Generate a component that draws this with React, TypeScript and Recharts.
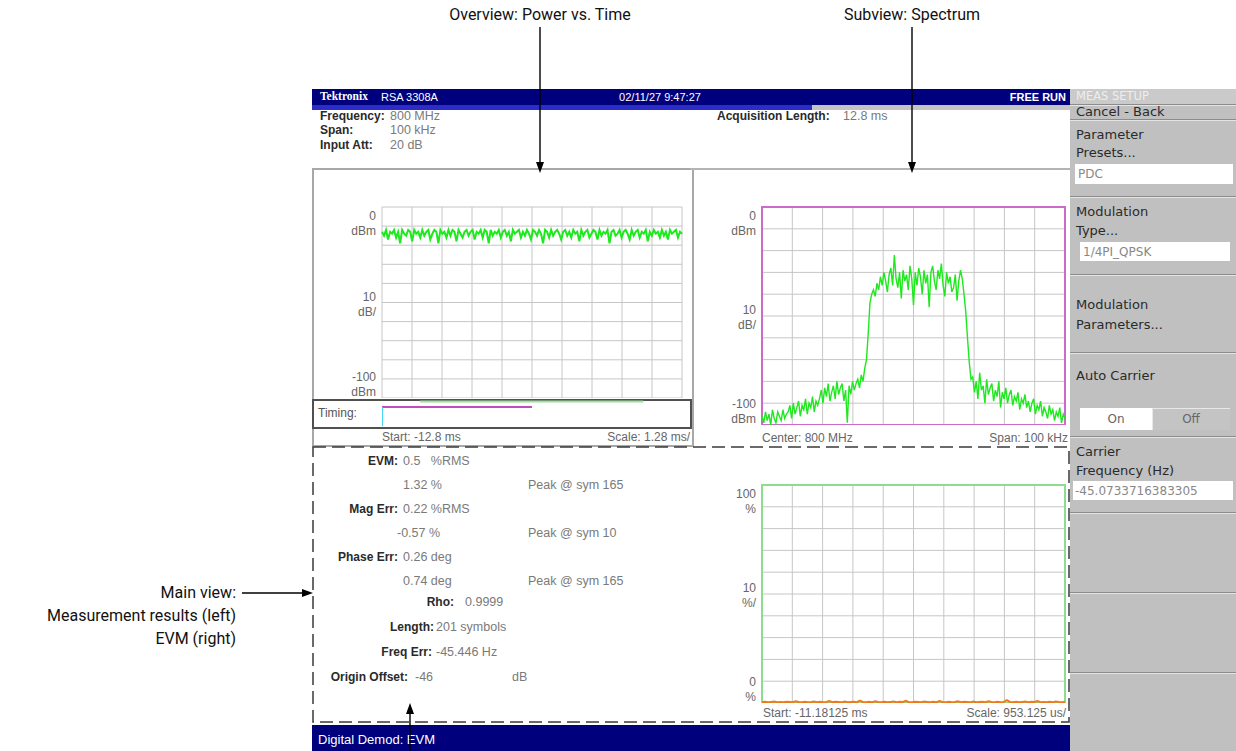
import React from 'react';
import { LineChart, Line, XAxis, YAxis, CartesianGrid, ReferenceArea } from 'recharts';

// overview: power vs. time (dBm)
const overviewDbm = [
  -13, -15, -12, -17, -13, -14, -12, -16, -13, -19, -12, -14, -15, -12, -13,
  -18, -12, -14, -13, -16, -12, -15, -13, -12, -17, -14, -12, -13, -19, -12,
  -14, -13, -16, -12, -15, -12, -13, -18, -12, -14, -16, -13, -12, -15, -13,
  -12, -17, -13, -14, -12, -16, -12, -13, -19, -12, -15, -13, -14, -12, -16,
  -13, -12, -15, -13, -18, -12, -14, -13, -12, -16, -13, -15, -12, -14, -17,
  -12, -13, -15, -12, -14, -19, -12, -13, -16, -12, -15, -13, -12, -14, -17,
  -13, -12, -15, -13, -16, -12, -14, -13, -18, -12, -15, -13, -12, -16, -14,
  -12, -13, -17, -12, -15, -13, -14, -12, -19, -13, -12, -15, -14, -12, -16,
  -13, -12, -14, -17, -12, -15, -13, -12, -16, -13, -14, -12, -18, -13, -15,
  -12, -14, -13, -16, -12, -15, -13, -17, -12, -14, -13, -12, -16, -13, -14,
];

// subview: spectrum (dBm) across the 100 kHz span
const spectrumDbm = [
  -96, -99, -94, -98, -95, -100, -93, -97, -99, -94, -96, -98, -93, -97, -95,
  -94, -91, -97, -90, -95, -92, -89, -96, -91, -93, -88, -95, -90, -92, -87, -94, -89, -91,
  -88, -84, -90, -83, -87, -81, -89, -85, -82, -88, -80, -86, -83, -81, -89, -84, -99, -82, -86, -80, -84, -81,
  -79, -83, -77, -80, -74, -70,
  -58, -44, -40, -38,
  -41, -35, -38, -32, -36, -30, -34, -39, -31, -28, -36, -22, -33, -37, -30, -42, -29, -34, -31, -38,
  -27, -33, -45, -30, -36, -28, -32, -40, -29, -35, -31, -46, -30, -27, -34, -38, -29, -33, -26, -36,
  -41, -30, -35, -32, -39, -37, -31, -43, -34, -29,
  -33, -40, -48, -60, -71, -79,
  -78, -85, -80, -88, -76, -84, -82, -90, -79, -86, -83, -81, -89, -84, -87, -80, -92, -85, -88, -83,
  -90, -86, -84, -91, -87, -89, -85, -93, -88, -90, -86, -92, -89, -94, -90, -88, -95, -91, -93, -89,
  -96, -92, -94, -97, -91, -95, -93, -98, -94, -96, -92, -99, -95, -97,
];

// main view: EVM (%) per symbol
const evmPercent = [
  0.4, 0.6, 0.3, 0.5, 0.7, 0.4, 0.5, 0.3, 0.6, 0.5, 0.4, 0.8, 0.5, 0.3, 0.6, 0.4, 0.5, 0.7, 0.4, 0.6,
  0.3, 0.5, 0.9, 0.4, 0.6, 0.5, 0.3, 0.7, 0.4, 0.5, 0.6, 0.4, 1.1, 0.5, 0.3, 0.6, 0.4, 0.8, 0.5, 0.4,
  0.6, 0.3, 0.5, 0.7, 0.4, 0.6, 0.5, 1.0, 0.4, 0.3, 0.6, 0.5, 0.4, 0.7, 0.5, 0.3, 0.6, 0.4, 0.9, 0.5,
  0.4, 0.6, 0.3, 0.5, 0.8, 0.4, 0.6, 0.5, 0.3, 0.7, 0.4, 0.5, 0.6, 0.4, 0.8, 0.5, 0.3, 0.6, 0.4, 0.5,
  1.3, 0.5, 0.4, 0.6, 0.3, 0.5, 0.7, 0.4, 0.6, 0.5, 0.9, 0.4, 0.5, 0.3, 0.6, 0.4, 0.7, 0.5, 0.4, 0.5,
];

const overviewRangeMs = [-12.8, 0];
const timingMagentaMs = [-12.8, -6.4];
const timingGreenMs = [-11.18125, -1.65];

const dbTicks = [0, -10, -20, -30, -40, -50, -60, -70, -80, -90, -100];
const pctTicks = [0, 10, 20, 30, 40, 50, 60, 70, 80, 90, 100];
const dbLabels: Record<number, string[]> = { 0: ['0', 'dBm'], [-50]: ['10', 'dB/'], [-100]: ['-100', 'dBm'] };
const pctLabels: Record<number, string[]> = { 100: ['100', '%'], 50: ['10', '%/'], 0: ['0', '%'] };

const measLabels = ['EVM:', '', 'Mag Err:', '', 'Phase Err:', ''];
const measValues = ['0.5   %RMS', '1.32 %', '0.22 %RMS', '-0.57 %', '0.26 deg', '0.74 deg'];
const measPeaks = ['', 'Peak @ sym 165', '', 'Peak @ sym 10', '', 'Peak @ sym 165'];

const SCREEN_FONT = "'Liberation Sans', Arial, sans-serif";
const NOTE_FONT = "Roboto, 'Liberation Sans', sans-serif";

const divTicks = (n: number) => Array.from({ length: 11 }, (_, k) => (k * (n - 1)) / 10);

function Txt({ x, y, children, align = 'left', style }: any) {
  const tx = align === 'right' ? 'translate(-100%,-50%)' : align === 'center' ? 'translate(-50%,-50%)' : 'translate(0,-50%)';
  return (
    <div style={{ position: 'absolute', left: x, top: y, transform: tx, whiteSpace: 'pre', lineHeight: 1, ...style }}>
      {children}
    </div>
  );
}

function stackTick(props: any, labels: Record<number, string[]>, top: number, bottom: number) {
  const { x, y, payload } = props;
  const lab = labels[payload.value];
  if (!lab) return <g />;
  let o1 = -2;
  let o2 = 13;
  if (payload.value === top) { o1 = 13; o2 = 28; }
  if (payload.value === bottom) { o1 = -17; o2 = -2; }
  return (
    <g fill="#666" fontSize={12} fontFamily={SCREEN_FONT}>
      <text x={x} y={y + o1} textAnchor="end">{lab[0]}</text>
      <text x={x} y={y + o2} textAnchor="end">{lab[1]}</text>
    </g>
  );
}

function TracePlot({ values, domain, ticks, labels, stroke, border, width, height, strokeWidth }: any) {
  const data = values.map((v: number, i: number) => ({ i, v }));
  const n = values.length;
  return (
    <LineChart width={width} height={height} data={data} margin={{ top: 10, right: 5, bottom: 0, left: 0 }}>
      <CartesianGrid stroke="#c6c6c6" strokeWidth={1} />
      <XAxis dataKey="i" type="number" domain={[0, n - 1]} ticks={divTicks(n)} interval={0} height={0} tick={() => <g />} axisLine={false} tickLine={false} />
      <YAxis
        type="number"
        domain={domain}
        ticks={ticks}
        interval={0}
        width={70}
        axisLine={false}
        tickLine={false}
        tickSize={0}
        tickMargin={6}
        allowDataOverflow
        tick={(p: any) => stackTick(p, labels, domain[1], domain[0])}
      />
      {border && (
        <ReferenceArea x1={0} x2={n - 1} y1={domain[0]} y2={domain[1]} fill="none" stroke={border} strokeWidth={2} ifOverflow="visible" />
      )}
      <Line dataKey="v" type="linear" stroke={stroke} strokeWidth={strokeWidth} dot={false} isAnimationActive={false} />
    </LineChart>
  );
}

function TimingBar() {
  const seg = (a: number, b: number, ya: number, yb: number) => [{ t: a, y: ya }, { t: b, y: yb }];
  return (
    <LineChart width={300} height={27} margin={{ top: 0, right: 0, bottom: 0, left: 0 }}>
      <XAxis dataKey="t" type="number" domain={overviewRangeMs} allowDuplicatedCategory={false} hide />
      <YAxis type="number" domain={[0, 27]} reversed hide />
      <Line data={seg(timingGreenMs[0], timingGreenMs[1], 1.5, 1.5)} dataKey="y" stroke="#9ee09e" strokeWidth={2} dot={false} isAnimationActive={false} />
      <Line data={seg(timingMagentaMs[0], timingMagentaMs[1], 7, 7)} dataKey="y" stroke="#c04cc0" strokeWidth={2} dot={false} isAnimationActive={false} />
      <Line data={seg(timingMagentaMs[0], timingMagentaMs[0], 7, 26)} dataKey="y" stroke="#40d8f0" strokeWidth={2} dot={false} isAnimationActive={false} />
    </LineChart>
  );
}

const panelDivider = (y: number) => (
  <div key={y} style={{ position: 'absolute', left: 1070, top: y, width: 166, height: 1, background: '#8c8c8c', borderBottom: '1px solid #e4e4e4' }} />
);

export default function App() {
  const lbl: React.CSSProperties = { fontWeight: 'bold', color: '#2a2a2a', fontSize: 12 };
  const val: React.CSSProperties = { color: '#7a7a7a', fontSize: 12.5 };
  const side: React.CSSProperties = { color: '#2a2a2a', fontSize: 13, fontFamily: "'DejaVu Sans', sans-serif" };
  const box = (x: number, y: number, w: number, h: number, bg: string): React.CSSProperties => ({
    position: 'absolute', left: x, top: y, width: w, height: h, background: bg,
  });
  return (
    <div style={{ position: 'absolute', left: 0, top: 0, width: 1236, height: 751, background: '#fff', overflow: 'hidden', fontFamily: SCREEN_FONT }}>
      {/* annotations */}
      <Txt x={540} y={15} align="center" style={{ fontFamily: NOTE_FONT, fontSize: 16, color: '#111' }}>Overview: Power vs. Time</Txt>
      <Txt x={912} y={15} align="center" style={{ fontFamily: NOTE_FONT, fontSize: 16, color: '#111' }}>Subview: Spectrum</Txt>
      <Txt x={236} y={593} align="right" style={{ fontFamily: NOTE_FONT, fontSize: 16, color: '#111' }}>Main view:</Txt>
      <Txt x={236} y={616} align="right" style={{ fontFamily: NOTE_FONT, fontSize: 16, color: '#111' }}>Measurement results (left)</Txt>
      <Txt x={236} y={639} align="right" style={{ fontFamily: NOTE_FONT, fontSize: 16, color: '#111' }}>EVM (right)</Txt>

      {/* header */}
      <div style={box(312, 89, 758, 16, '#00007c')} />
      <div style={box(312, 105, 500, 5, '#2c2cc8')} />
      <div style={box(812, 105, 258, 5, '#c4c4c4')} />
      <Txt x={320} y={97} style={{ color: '#fff', fontSize: 11.5, fontWeight: 'bold', fontFamily: "'Liberation Serif', serif" }}>Tektronix</Txt>
      <Txt x={381} y={97} style={{ color: '#fff', fontSize: 11 }}>RSA 3308A</Txt>
      <Txt x={660} y={97} align="center" style={{ color: '#fff', fontSize: 11 }}>02/11/27 9:47:27</Txt>
      <Txt x={1066} y={97} align="right" style={{ color: '#fff', fontSize: 11, fontWeight: 'bold' }}>FREE RUN</Txt>

      {/* setup info */}
      <Txt x={320} y={116} style={lbl}>Frequency:</Txt>
      <Txt x={390} y={116} style={val}>800 MHz</Txt>
      <Txt x={320} y={130} style={lbl}>Span:</Txt>
      <Txt x={390} y={130} style={val}>100 kHz</Txt>
      <Txt x={320} y={145} style={lbl}>Input Att:</Txt>
      <Txt x={390} y={145} style={val}>20 dB</Txt>
      <Txt x={717} y={116} style={lbl}>Acquisition Length:</Txt>
      <Txt x={843} y={116} style={val}>12.8 ms</Txt>

      {/* overview */}
      <div style={{ position: 'absolute', left: 312, top: 168, width: 378, height: 275, border: '2px solid #a8a8a8', boxSizing: 'content-box' }} />
      <div style={box(690, 168, 380, 2, '#b4b4b4')} />
      <div style={{ position: 'absolute', left: 312, top: 197 }}>
        <TracePlot values={overviewDbm} domain={[-100, 0]} ticks={dbTicks} labels={dbLabels} stroke="#1ee81e" strokeWidth={2} width={375} height={201} />
      </div>
      <div style={{ position: 'absolute', left: 312, top: 399, width: 376, height: 26, border: '2px solid #505050', background: '#fff' }} />
      <Txt x={318} y={413} style={{ color: '#555', fontSize: 12 }}>Timing:</Txt>
      <div style={{ position: 'absolute', left: 382, top: 400 }}>
        <TimingBar />
      </div>
      <Txt x={382} y={437} style={{ color: '#666', fontSize: 12 }}>Start: -12.8 ms</Txt>
      <Txt x={690} y={437} align="right" style={{ color: '#666', fontSize: 12 }}>Scale: 1.28 ms/</Txt>

      {/* spectrum */}
      <div style={{ position: 'absolute', left: 692, top: 197 }}>
        <TracePlot values={spectrumDbm} domain={[-100, 0]} ticks={dbTicks} labels={dbLabels} stroke="#1ee81e" strokeWidth={1.4} border="#cc6acc" width={378} height={228} />
      </div>
      <Txt x={762} y={438} style={{ color: '#666', fontSize: 12 }}>Center: 800 MHz</Txt>
      <Txt x={1068} y={438} align="right" style={{ color: '#666', fontSize: 12 }}>Span: 100 kHz</Txt>

      {/* main view: results */}
      {measLabels.map((l, k) => (
        <React.Fragment key={k}>
          {l && <Txt x={398} y={461 + k * 24} align="right" style={lbl}>{l}</Txt>}
          <Txt x={k === 3 ? 397 : 403} y={461 + k * 24} style={val}>{measValues[k]}</Txt>
          {measPeaks[k] && <Txt x={528} y={461 + k * 24} style={val}>{measPeaks[k]}</Txt>}
        </React.Fragment>
      ))}
      <Txt x={454} y={602} align="right" style={lbl}>Rho:</Txt>
      <Txt x={465} y={602} style={val}>0.9999</Txt>
      <Txt x={434} y={627} align="right" style={lbl}>Length:</Txt>
      <Txt x={436} y={627} style={val}>201 symbols</Txt>
      <Txt x={432} y={652} align="right" style={lbl}>Freq Err:</Txt>
      <Txt x={436} y={652} style={val}>-45.446 Hz</Txt>
      <Txt x={408} y={677} align="right" style={lbl}>Origin Offset:</Txt>
      <Txt x={415} y={677} style={val}>-46</Txt>
      <Txt x={512} y={677} style={val}>dB</Txt>

      {/* main view: EVM */}
      <div style={{ position: 'absolute', left: 692, top: 475 }}>
        <TracePlot values={evmPercent} domain={[0, 100]} ticks={pctTicks} labels={pctLabels} stroke="#ee7a1a" strokeWidth={2} border="#8edc8e" width={378} height={228} />
      </div>
      <Txt x={763} y={713} style={{ color: '#666', fontSize: 12 }}>Start: -11.18125 ms</Txt>
      <Txt x={1066} y={713} align="right" style={{ color: '#666', fontSize: 12 }}>Scale: 953.125 us/</Txt>

      {/* status bar */}
      <div style={box(312, 725, 758, 26, '#00007c')} />
      <Txt x={318} y={739} style={{ color: '#fff', fontSize: 13 }}>Digital Demod: EVM</Txt>

      {/* side menu */}
      <div style={box(1070, 89, 166, 662, '#c0c0c0')} />
      <div style={box(1070, 89, 166, 15, '#cacaca')} />
      <Txt x={1076} y={97} style={{ ...side, color: '#eeeeee', fontSize: 11.5 }}>MEAS SETUP</Txt>
      {[104, 119, 196, 274, 352, 436, 512, 592, 672].map(panelDivider)}
      <Txt x={1076} y={111} style={side}>Cancel - Back</Txt>
      <Txt x={1076} y={134} style={side}>Parameter</Txt>
      <Txt x={1076} y={152} style={side}>Presets...</Txt>
      <div style={box(1075, 164, 158, 20, '#fff')} />
      <Txt x={1078} y={174} style={{ ...side, color: '#888', fontSize: 12 }}>PDC</Txt>
      <Txt x={1076} y={211} style={side}>Modulation</Txt>
      <Txt x={1076} y={230} style={side}>Type...</Txt>
      <div style={box(1080, 242, 150, 19, '#fff')} />
      <Txt x={1083} y={252} style={{ ...side, color: '#888', fontSize: 12 }}>1/4PI_QPSK</Txt>
      <Txt x={1076} y={304} style={side}>Modulation</Txt>
      <Txt x={1076} y={324} style={side}>Parameters...</Txt>
      <Txt x={1076} y={375} style={side}>Auto Carrier</Txt>
      <div style={box(1080, 408, 72, 22, '#fff')} />
      <div style={{ ...box(1152, 408, 78, 22, '#c4c4c4'), boxShadow: 'inset 1px 1px 0 #e8e8e8' }} />
      <Txt x={1116} y={419} align="center" style={{ ...side, color: '#666', fontSize: 12 }}>On</Txt>
      <Txt x={1191} y={419} align="center" style={{ ...side, color: '#666', fontSize: 12 }}>Off</Txt>
      <Txt x={1076} y={451} style={side}>Carrier</Txt>
      <Txt x={1076} y={470} style={side}>Frequency (Hz)</Txt>
      <div style={box(1073, 481, 160, 19, '#fff')} />
      <Txt x={1075} y={491} style={{ ...side, color: '#888', fontSize: 12 }}>-45.0733716383305</Txt>

      {/* frame lines and arrows */}
      <svg width={1236} height={751} style={{ position: 'absolute', left: 0, top: 0, pointerEvents: 'none' }}>
        <rect x={313} y={447} width={756} height={275} fill="none" stroke="#3a3a3a" strokeWidth={1.5} strokeDasharray="13 6" />
        <line x1={540} y1={27} x2={540} y2={164} stroke="#000" strokeWidth={1.4} />
        <polygon points="536,162 544,162 540,173" fill="#000" />
        <line x1={912} y1={27} x2={912} y2={164} stroke="#000" strokeWidth={1.4} />
        <polygon points="908,162 916,162 912,173" fill="#000" />
        <line x1={242} y1={593} x2={304} y2={593} stroke="#000" strokeWidth={1.4} />
        <polygon points="302,589 302,597 313,593" fill="#000" />
        <line x1={410} y1={751} x2={410} y2={712} stroke="#000" strokeWidth={1.4} />
        <polygon points="406,714 414,714 410,703" fill="#000" />
      </svg>
    </div>
  );
}
